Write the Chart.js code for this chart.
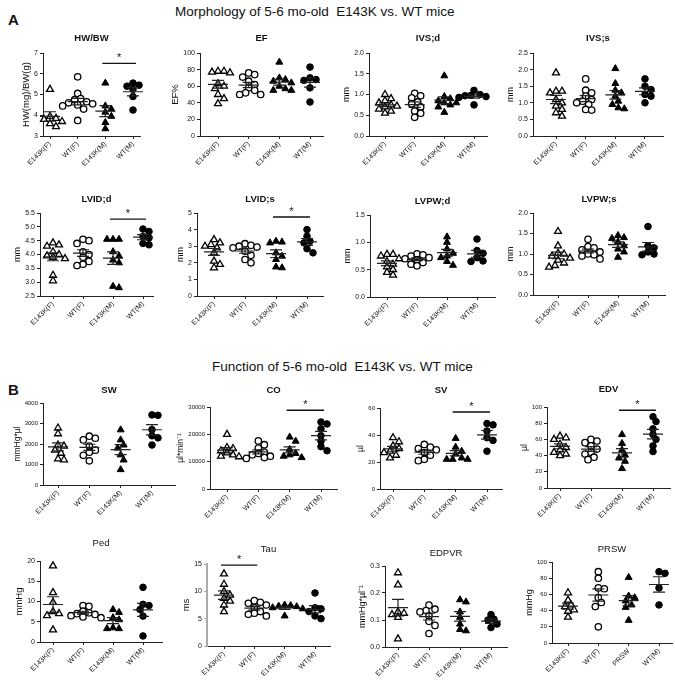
<!DOCTYPE html>
<html>
<head>
<meta charset="utf-8">
<script src="https://cdn.jsdelivr.net/npm/chart.js@4"></script>
<style>
  body { margin: 0; width: 675px; height: 680px; position: relative; overflow: hidden; background: #fff; font-family: "Liberation Sans", Arial, sans-serif; color: #111; }
  canvas { position: absolute; }
  .lbl { position: absolute; white-space: nowrap; line-height: 16px; }
  .big { font-size: 13.5px; }
  .panel { font-size: 15px; font-weight: bold; }
</style>
</head>
<body>
<div class="lbl panel" style="left:8px;top:12px">A</div>
<div class="lbl big" style="left:175px;top:4px">Morphology of 5-6 mo-old&nbsp; E143K vs. WT mice</div>
<div class="lbl panel" style="left:8px;top:382px">B</div>
<div class="lbl big" style="left:212px;top:359px">Function of 5-6 mo-old&nbsp; E143K vs. WT mice</div>
<script>
// categories
const groups = ['E143K(F)', 'WT(F)', 'E143K(M)', 'WT(M)'];
const groupsPrsw = ['E143K(F)', 'WT(F)', 'PRSW', 'WT(M)'];

// values per group, in the order of groups
const hwbw = [
  [5.25, 3.95, 3.85, 3.8, 3.7, 3.6, 3.45],
  [5.85, 5.05, 4.8, 4.75, 4.65, 4.6, 4.55, 4.5, 4.45, 4.3, 3.75],
  [5.55, 4.45, 4.3, 4.15, 3.95, 3.65, 3.35],
  [5.55, 5.45, 5.4, 5.25, 4.9, 4.25]
];
const ef = [
  [78, 78, 77, 76, 63, 60, 57, 50, 45, 39],
  [76, 74, 71, 66, 62, 58, 55, 52, 50, 50],
  [89, 70, 68, 66, 64, 60, 57, 55, 55],
  [83, 70, 68, 67, 58, 41]
];
const ivsd = [
  [1.0, 0.9, 0.85, 0.8, 0.75, 0.72, 0.7, 0.65, 0.6, 0.55],
  [1.03, 0.97, 0.92, 0.82, 0.78, 0.7, 0.6, 0.55, 0.45],
  [1.45, 0.95, 0.9, 0.85, 0.8, 0.8, 0.75, 0.7, 0.57],
  [1.1, 1.0, 0.98, 0.97, 0.95, 0.93, 0.75]
];
const ivss = [
  [1.9, 1.35, 1.35, 1.3, 1.1, 1.0, 0.9, 0.8, 0.7, 0.6],
  [1.72, 1.38, 1.3, 1.2, 1.1, 1.05, 1.0, 0.95, 0.8, 0.78],
  [2.03, 1.58, 1.38, 1.3, 1.2, 1.05, 0.95, 0.85, 0.82],
  [1.72, 1.5, 1.4, 1.25, 1.2, 1.0]
];
const lvidd = [
  [4.42, 4.35, 4.3, 4.1, 4.0, 3.95, 3.9, 3.85, 3.25, 3.05],
  [4.55, 4.5, 4.4, 4.1, 4.0, 3.9, 3.75, 3.65, 3.6],
  [4.55, 4.55, 4.55, 4.1, 3.95, 3.8, 3.7, 2.85, 2.8],
  [4.92, 4.83, 4.65, 4.6, 4.4, 4.35]
];
const lvids = [
  [3.4, 3.2, 3.1, 3.0, 2.9, 2.6, 2.1, 1.9, 1.7],
  [3.15, 3.05, 3.0, 2.95, 2.9, 2.7, 2.45, 2.2, 2.0],
  [3.3, 3.25, 3.2, 2.6, 2.4, 2.2, 1.75, 1.7],
  [4.0, 3.6, 3.3, 3.2, 2.85, 2.6]
];
const lvpwd = [
  [0.78, 0.78, 0.75, 0.7, 0.65, 0.6, 0.55, 0.5, 0.45, 0.4],
  [0.79, 0.77, 0.75, 0.72, 0.7, 0.68, 0.63, 0.6, 0.57],
  [1.1, 1.0, 0.88, 0.8, 0.75, 0.72, 0.65, 0.58],
  [1.06, 0.85, 0.8, 0.72, 0.66, 0.65]
];
const lvpws = [
  [1.55, 1.2, 1.02, 1.0, 0.95, 0.9, 0.85, 0.78, 0.72, 0.68],
  [1.36, 1.18, 1.15, 1.1, 1.05, 1.0, 0.98, 0.95, 0.88],
  [1.45, 1.4, 1.38, 1.3, 1.2, 1.12, 1.05, 0.92],
  [1.67, 1.2, 1.15, 1.05, 1.0, 0.98]
];
const sw = [
  [2780, 2500, 1950, 1900, 1700, 1550, 1270, 1230],
  [2380, 2280, 2200, 1900, 1700, 1600, 1450, 1180],
  [2690, 2200, 1950, 1800, 1470, 1220, 750],
  [3420, 3400, 2700, 2400, 2300, 1950]
];
const co = [
  [20000, 15200, 14800, 14000, 13200, 12500, 12000, 11800],
  [17600, 16200, 15000, 13500, 13000, 12500, 12000, 11500, 11200],
  [19000, 17500, 14500, 13000, 12500, 12000, 11500],
  [24500, 23800, 22000, 19500, 17500, 15500, 14000]
];
const sv = [
  [38, 35, 32, 30, 28, 27, 25, 23],
  [33, 31, 30, 29, 27, 25, 22, 21],
  [37.5, 31, 28, 26, 23, 22, 22, 22],
  [48.5, 47.5, 43, 38, 36, 28]
];
const edv = [
  [64, 62, 60, 54, 50, 47, 44, 42, 40],
  [60, 58, 56, 52, 48, 44, 42, 38, 35],
  [66, 55, 47, 41, 37, 33, 24],
  [88, 82, 73, 66, 60, 52, 45]
];
const ped = [
  [18.8, 12.2, 9.8, 7.5, 7.0, 6.5, 3.0],
  [9.0, 8.8, 7.6, 7.2, 7.0, 6.8, 6.5, 6.2, 6.0],
  [8.0, 7.3, 6.0, 5.5, 3.5, 3.3, 3.3],
  [13.5, 9.3, 9.0, 8.0, 6.4, 1.5]
];
const tau = [
  [13.2, 11.3, 10.0, 9.3, 8.7, 8.2, 7.5, 6.3],
  [8.3, 8.0, 7.8, 7.5, 7.0, 6.3, 6.0, 5.8, 5.5],
  [7.5, 7.4, 7.3, 7.2, 7.0, 6.8, 5.5],
  [9.7, 7.0, 6.8, 6.3, 5.5, 5.0]
];
const edpvr = [
  [0.275, 0.23, 0.13, 0.125, 0.12, 0.11, 0.03],
  [0.155, 0.14, 0.135, 0.13, 0.115, 0.095, 0.08, 0.05],
  [0.175, 0.167, 0.13, 0.11, 0.085, 0.065, 0.06],
  [0.12, 0.103, 0.1, 0.085, 0.072]
];
const prsw = [
  [62, 53, 47, 45, 41, 39, 32],
  [88, 80, 68, 67, 56, 50, 45, 20],
  [81, 58, 56, 52, 47, 44, 28],
  [88, 86, 68, 47]
];

// y tick labels
const hwbwTicks = [3, 4, 5, 6, 7];
const efTicks = [0, 20, 40, 60, 80, 100];
const ivsdTicks = [0, 0.5, 1, 1.5, 2];
const ivssTicks = [0, 0.5, 1, 1.5, 2, 2.5];
const lviddTicks = [2.5, 3, 3.5, 4, 4.5, 5, 5.5];
const lvidsTicks = [0, 1, 2, 3, 4, 5];
const lvpwdTicks = [0, 0.5, 1, 1.5];
const lvpwsTicks = [0, 0.5, 1, 1.5, 2];
const swTicks = [0, 1000, 2000, 3000, 4000];
const coTicks = [0, 10000, 20000, 30000];
const svTicks = [0, 20, 40, 60];
const edvTicks = [0, 20, 40, 60, 80, 100];
const pedTicks = [0, 5, 10, 15, 20];
const tauTicks = [0, 5, 10, 15];
const edpvrTicks = [0, 0.1, 0.2, 0.3];
const prswTicks = [0, 20, 40, 60, 80, 100];

// significance: [from group, to group, height]
const hwbwSig = [2, 3, 6.5];
const lviddSig = [2, 3, 5.28];
const lvidsSig = [2, 3, 4.76];
const coSig = [2, 3, 28800];
const svSig = [2, 3, 57];
const edvSig = [2, 3, 96];
const tauSig = [0, 1, 14.8];

// box: [y-axis x, x-axis end, plot top, plot bottom, title y]; cat: first/last category x
const panels = [
  {title: 'HW/BW', yTitle: 'HW(mg)/BW(g)', data: hwbw, ticks: hwbwTicks, dec: 0, sig: hwbwSig, box: [43, 140, 53, 136, 38], cat: [50, 133], bold: true, fs: 7, yfs: 9.5},
  {title: 'EF', yTitle: 'EF%', data: ef, ticks: efTicks, dec: 0, box: [200, 323, 53, 136, 38], cat: [218, 310], bold: true, fs: 7, yfs: 9.5},
  {title: 'IVS;d', yTitle: 'mm', data: ivsd, ticks: ivsdTicks, dec: 1, box: [369, 487, 53, 136, 38], cat: [385, 474], bold: true, fs: 7, yfs: 9},
  {title: 'IVS;s', yTitle: 'mm', data: ivss, ticks: ivssTicks, dec: 1, box: [533, 663, 53, 136, 38], cat: [556, 645], bold: true, fs: 7, yfs: 9},
  {title: 'LVID;d', yTitle: 'mm', data: lvidd, ticks: lviddTicks, dec: 1, sig: lviddSig, box: [40, 153, 213, 296, 199], cat: [53, 143], bold: true, fs: 7, yfs: 9},
  {title: 'LVID;s', yTitle: 'mm', data: lvids, ticks: lvidsTicks, dec: 0, sig: lvidsSig, box: [197, 323, 213, 296, 199], cat: [214, 307], bold: true, fs: 7, yfs: 9},
  {title: 'LVPW;d', yTitle: 'mm', data: lvpwd, ticks: lvpwdTicks, dec: 1, box: [370, 495, 215, 297, 201], cat: [387, 477], bold: true, fs: 7, yfs: 9},
  {title: 'LVPW;s', yTitle: 'mm', data: lvpws, ticks: lvpwsTicks, dec: 1, box: [533, 665, 213, 295, 199], cat: [558, 648], bold: true, fs: 7, yfs: 9},
  {title: 'SW', yTitle: 'mmHg*µl', data: sw, ticks: swTicks, dec: 0, box: [43, 175, 403, 485, 390], cat: [58, 152], bold: true, fs: 6, yfs: 8.5},
  {title: 'CO', yTitle: 'µl*min⁻¹', data: co, ticks: coTicks, dec: 0, sig: coSig, box: [210, 337, 407, 489, 390], cat: [227, 321], bold: true, fs: 6, yfs: 8.5},
  {title: 'SV', yTitle: 'µl', data: sv, ticks: svTicks, dec: 0, sig: svSig, box: [380, 502, 408, 489, 390], cat: [393, 487], bold: true, fs: 6, yfs: 8.5},
  {title: 'EDV', yTitle: 'µl', data: edv, ticks: edvTicks, dec: 0, sig: edvSig, box: [547, 670, 407, 488, 389], cat: [560, 653], bold: true, fs: 6, yfs: 8.5},
  {title: 'Ped', yTitle: 'mmHg', data: ped, ticks: pedTicks, dec: 0, box: [40, 162, 561, 642, 543], cat: [53, 143], bold: false, fs: 7, yfs: 9.5},
  {title: 'Tau', yTitle: 'ms', data: tau, ticks: tauTicks, dec: 0, sig: tauSig, box: [207, 330, 564, 646, 549], cat: [224, 315], bold: false, fs: 7, yfs: 9.5, grayAxis: true},
  {title: 'EDPVR', yTitle: 'mmHg*µl⁻¹', data: edpvr, ticks: edpvrTicks, dec: 1, box: [385, 507, 566, 647, 553], cat: [398, 491], bold: false, fs: 7, yfs: 9},
  {title: 'PRSW', yTitle: 'mmHg', data: prsw, ticks: prswTicks, dec: 0, names: groupsPrsw, box: [552, 672, 562, 643, 549], cat: [568, 659], bold: false, fs: 6, yfs: 9}
];

const markerStyles = [
  {pointStyle: 'triangle', pointRadius: 4, pointBackgroundColor: '#fff', pointBorderColor: '#000', pointBorderWidth: 1.3},
  {pointStyle: 'circle', pointRadius: 3.2, pointBackgroundColor: '#fff', pointBorderColor: '#000', pointBorderWidth: 1.3},
  {pointStyle: 'triangle', pointRadius: 4, pointBackgroundColor: '#000', pointBorderColor: '#000', pointBorderWidth: 1},
  {pointStyle: 'circle', pointRadius: 3.3, pointBackgroundColor: '#000', pointBorderColor: '#000', pointBorderWidth: 1}
];

const FONT = '"Liberation Sans", Arial, sans-serif';
Chart.defaults.font.family = FONT;

function mean(a) {
  return a.reduce((s, v) => s + v, 0) / a.length;
}

function sem(a) {
  let m = mean(a);
  let ss = a.reduce((s, v) => s + (v - m) * (v - m), 0);
  return Math.sqrt(ss / (a.length - 1)) / Math.sqrt(a.length);
}

// horizontal spread of dots so they do not sit on each other (pixels)
function spread(vals, pxU) {
  let d = 6;
  let order = vals.map((v, i) => i).sort((a, b) => vals[b] - vals[a]);
  let placed = [];
  let off = new Array(vals.length).fill(0);
  order.forEach(i => {
    let y = vals[i] * pxU;
    for (let k = 0; k < 30; k++) {
      let c = k === 0 ? 0 : (k % 2 ? 1 : -1) * Math.ceil(k / 2) * d * 0.5;
      let ok = placed.every(p => Math.hypot(p[0] - c, p[1] - y) >= d * 0.9);
      if (ok) {
        off[i] = c;
        placed.push([c, y]);
        break;
      }
    }
  });
  return off;
}

const decoPlugin = {
  id: 'deco',
  afterDatasetsDraw(chart, args, opts) {
    let p = opts.panel;
    let ctx = chart.ctx;
    let a = chart.chartArea;
    let x = chart.scales.x;
    let y = chart.scales.y;
    ctx.save();

    // mean +- SEM
    ctx.strokeStyle = '#222';
    ctx.lineWidth = 1.2;
    p.data.forEach((vals, g) => {
      let m = mean(vals), e = sem(vals);
      let cx = x.getPixelForValue(g);
      let ym = y.getPixelForValue(m);
      let yh = y.getPixelForValue(m + e);
      let yl = y.getPixelForValue(m - e);
      ctx.beginPath();
      ctx.moveTo(cx - 10, ym); ctx.lineTo(cx + 10, ym);
      ctx.moveTo(cx, yl); ctx.lineTo(cx, yh);
      ctx.moveTo(cx - 6, yl); ctx.lineTo(cx + 6, yl);
      ctx.moveTo(cx - 6, yh); ctx.lineTo(cx + 6, yh);
      ctx.stroke();
    });

    // significance bar
    if (p.sig) {
      let x1 = x.getPixelForValue(p.sig[0]) - 3;
      let x2 = x.getPixelForValue(p.sig[1]) + 3;
      let yy = y.getPixelForValue(p.sig[2]);
      ctx.lineWidth = 1.4;
      ctx.strokeStyle = '#111';
      ctx.beginPath();
      ctx.moveTo(x1, yy); ctx.lineTo(x2, yy);
      ctx.stroke();
      ctx.fillStyle = '#111';
      ctx.font = '11px ' + FONT;
      ctx.textAlign = 'center';
      ctx.textBaseline = 'middle';
      ctx.fillText('*', (x1 + x2) / 2, yy - 5);
    }

    // panel title
    ctx.fillStyle = '#111';
    ctx.textAlign = 'center';
    ctx.textBaseline = 'middle';
    ctx.font = (p.bold ? 'bold ' : '') + '9.5px ' + FONT;
    ctx.fillText(p.title, (a.left + a.right) / 2, a.top - (p.box[2] - p.box[4]));

    // y title, left of the tick labels
    ctx.font = p.fs + 'px ' + FONT;
    let w = 0;
    p.ticks.forEach(t => { w = Math.max(w, ctx.measureText(t.toFixed(p.dec)).width); });
    let tx = a.left - 3 - 2 - w - 3 - p.yfs / 2;
    ctx.font = p.yfs + 'px ' + FONT;
    ctx.translate(tx, (a.top + a.bottom) / 2);
    ctx.rotate(-Math.PI / 2);
    ctx.fillText(p.yTitle, 0, 0);
    ctx.restore();
  }
};

const L = 52, R = 14, T = 28, B = 48;

panels.forEach(p => {
  let [x0, x1, yt, yb] = p.box;
  let s = (p.cat[1] - p.cat[0]) / 3;
  let xmin = -(p.cat[0] - x0) / s;
  let xmax = 3 + (x1 - p.cat[1]) / s;
  let ymin = p.ticks[0];
  let ymax = p.ticks[p.ticks.length - 1];
  let pxU = (yb - yt) / (ymax - ymin);
  let names = p.names || groups;

  let cv = document.createElement('canvas');
  cv.width = x1 - x0 + L + R;
  cv.height = yb - yt + T + B;
  cv.style.left = (x0 - L) + 'px';
  cv.style.top = (yt - T) + 'px';
  document.body.appendChild(cv);

  let datasets = p.data.map((vals, g) => {
    let off = spread(vals, pxU);
    return Object.assign({
      label: names[g],
      data: vals.map((v, k) => ({x: g + off[k] / s, y: v})),
      clip: false
    }, markerStyles[g]);
  });

  let axisColor = '#222';
  new Chart(cv, {
    type: 'scatter',
    data: {datasets: datasets},
    plugins: [decoPlugin],
    options: {
      responsive: false,
      animation: false,
      events: [],
      layout: {padding: {top: T, right: R, left: 0, bottom: 0}},
      plugins: {
        legend: {display: false},
        tooltip: {enabled: false},
        deco: {panel: p}
      },
      scales: {
        x: {
          type: 'linear',
          min: xmin,
          max: xmax,
          afterBuildTicks: sc => { sc.ticks = [0, 1, 2, 3].map(v => ({value: v})); },
          afterFit: sc => { sc.height = B; },
          grid: {display: true, drawOnChartArea: false, drawTicks: true, tickLength: 3, color: axisColor},
          border: {display: true, color: axisColor, width: 1},
          ticks: {
            minRotation: 45, maxRotation: 45, autoSkip: false, padding: 1,
            color: '#111', font: {size: 7},
            callback: (v, i) => names[i]
          }
        },
        y: {
          min: ymin,
          max: ymax,
          afterBuildTicks: sc => { sc.ticks = p.ticks.map(v => ({value: v})); },
          afterFit: sc => { sc.width = L; },
          grid: {display: true, drawOnChartArea: false, drawTicks: true, tickLength: 3, color: p.grayAxis ? '#aaa' : axisColor},
          border: {display: true, color: p.grayAxis ? '#aaa' : axisColor, width: p.grayAxis ? 2 : 1},
          ticks: {
            padding: 2, color: '#111', font: {size: p.fs},
            callback: v => Number(v).toFixed(p.dec)
          }
        }
      }
    }
  });
});
</script>
</body>
</html>
